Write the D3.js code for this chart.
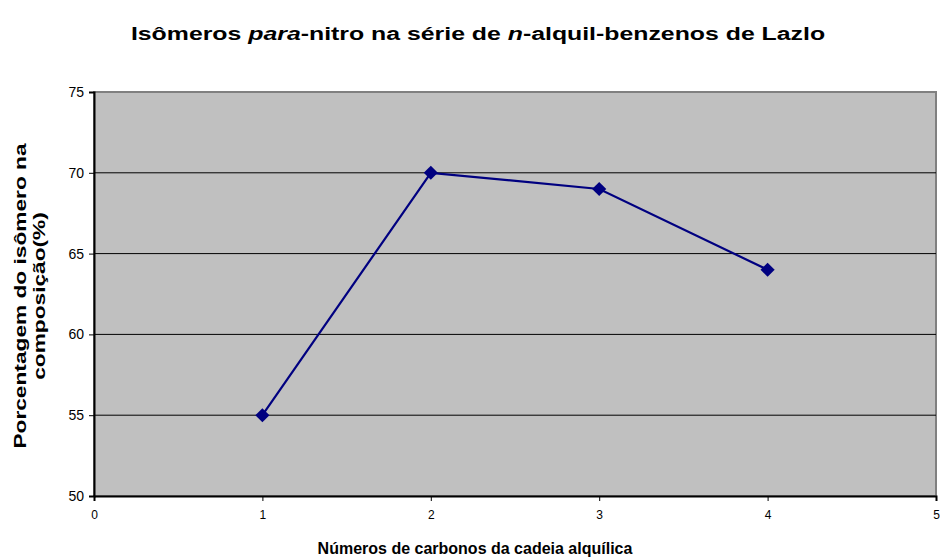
<!DOCTYPE html>
<html>
<head>
<meta charset="utf-8">
<script src="https://cdn.jsdelivr.net/npm/d3@7"></script>
<style>
  html, body { margin: 0; padding: 0; background: #ffffff; }
  svg text { font-family: "Liberation Sans", Arial, sans-serif; }
</style>
</head>
<body>
<svg id="chart" width="940" height="557"></svg>
<script>
// Number of carbons in the alkyl chain vs. share of the para isomer (%)
const carbons = [1, 2, 3, 4];
const paraPercent = [55, 70, 69, 64];
const xTicks = [0, 1, 2, 3, 4, 5];
const yTicks = [50, 55, 60, 65, 70, 75];

const svg = d3.select("#chart");
const plot = { left: 94, top: 92, right: 936, bottom: 496 };

const x = d3.scaleLinear().domain([0, 5]).range([plot.left, plot.right]);
const y = d3.scaleLinear().domain([50, 75]).range([plot.bottom, plot.top]);

// Plot background with grey frame on top/right
svg.append("rect")
  .attr("x", plot.left).attr("y", plot.top)
  .attr("width", plot.right - plot.left).attr("height", plot.bottom - plot.top)
  .attr("fill", "#c0c0c0")
  .attr("stroke", "#808080").attr("stroke-width", 2);

// Horizontal gridlines
svg.append("g").selectAll("line")
  .data(yTicks.filter(v => v > 50 && v < 75))
  .join("line")
  .attr("x1", plot.left).attr("x2", plot.right)
  .attr("y1", d => y(d)).attr("y2", d => y(d))
  .attr("stroke", "#000").attr("stroke-width", 1);

// Y axis
const yAxis = svg.append("g")
  .attr("transform", `translate(${plot.left},0)`)
  .call(d3.axisLeft(y).tickValues(yTicks).tickSize(5).tickPadding(5));
yAxis.select(".domain").attr("stroke", "#000").attr("stroke-width", 2);
yAxis.selectAll(".tick line").attr("stroke", "#000");
yAxis.selectAll(".tick text").attr("font-size", 14).attr("fill", "#000")
  .style("font-family", "'Liberation Sans', Arial, sans-serif");

// X axis
const xAxis = svg.append("g")
  .attr("transform", `translate(0,${plot.bottom})`)
  .call(d3.axisBottom(x).tickValues(xTicks).tickFormat(d3.format("d")).tickSize(5).tickPadding(9));
xAxis.select(".domain").attr("stroke", "#000").attr("stroke-width", 2);
xAxis.selectAll(".tick line").attr("stroke", "#000");
xAxis.selectAll(".tick text").attr("font-size", 12).attr("fill", "#000")
  .style("font-family", "'Liberation Sans', Arial, sans-serif");

// Data line
const pts = carbons.map((c, i) => [c, paraPercent[i]]);
svg.append("path")
  .datum(pts)
  .attr("fill", "none")
  .attr("stroke", "#000080")
  .attr("stroke-width", 2.2)
  .attr("d", d3.line().x(d => x(d[0])).y(d => y(d[1])));

// Diamond markers
svg.append("g").selectAll("path")
  .data(pts)
  .join("path")
  .attr("d", d3.symbol().type(d3.symbolSquare).size(100))
  .attr("transform", d => `translate(${x(d[0])},${y(d[1])}) rotate(45)`)
  .attr("fill", "#000080");

// Title (wide bold lettering)
const title = svg.append("text")
  .attr("transform", "translate(478,40) scale(1.38,1)")
  .attr("text-anchor", "middle")
  .attr("font-size", 18).attr("font-weight", "bold");
title.append("tspan").text("Isômeros ");
title.append("tspan").attr("font-style", "italic").text("para");
title.append("tspan").text("-nitro na série de ");
title.append("tspan").attr("font-style", "italic").text("n");
title.append("tspan").text("-alquil-benzenos de Lazlo");

// X axis title
svg.append("text")
  .attr("x", 475).attr("y", 554)
  .attr("text-anchor", "middle")
  .attr("font-size", 16).attr("font-weight", "bold")
  .text("Números de carbonos da cadeia alquílica");

// Y axis title (two lines)
const yTitle = svg.append("text")
  .attr("transform", "translate(26,296) rotate(-90) scale(1.42,1)")
  .attr("text-anchor", "middle")
  .attr("font-size", 16).attr("font-weight", "bold");
yTitle.append("tspan").attr("x", 0).attr("dy", 0).text("Porcentagem do isômero na");
yTitle.append("tspan").attr("x", 0).attr("dy", 19).text("composição(%)");
</script>
</body>
</html>
